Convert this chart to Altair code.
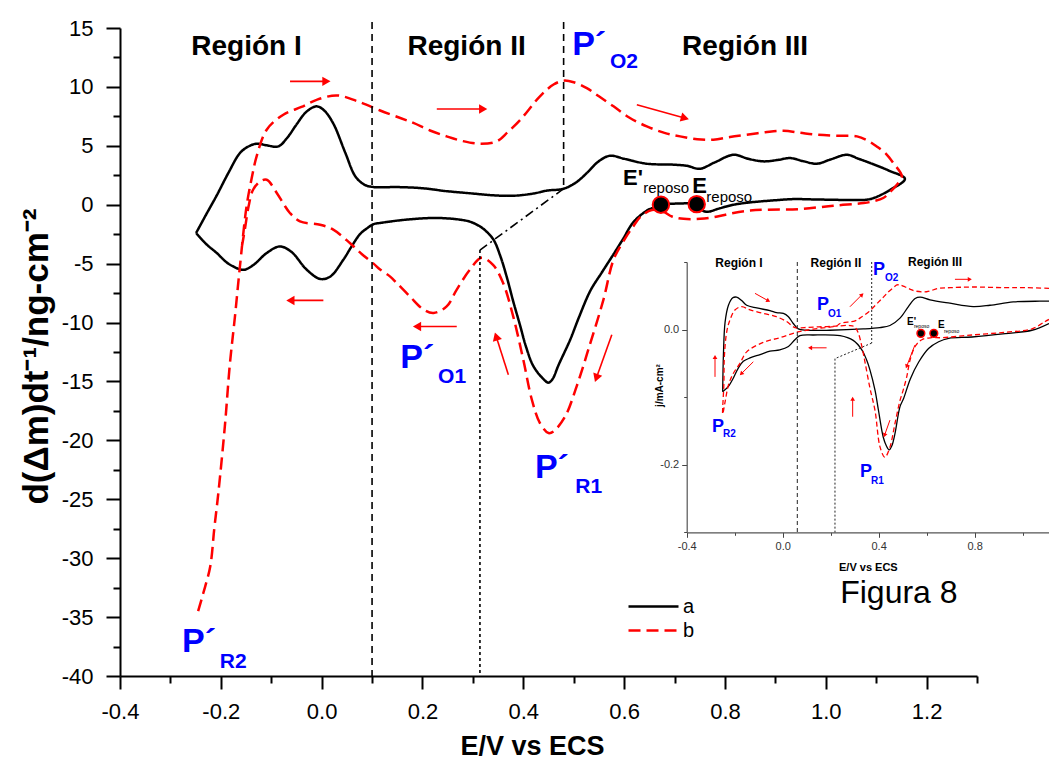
import math
import altair as alt
import pandas as pd

FONT = "Liberation Sans"
W, H = 857, 648
X_DOM = [-0.4, 1.3]
Y_DOM = [-40, 15]
IX_DOM = [-0.4, 1.11]
IY_DOM = [-0.3, 0.1]
IX_RANGE = [566.7, 929]
IY_RANGE = [504.3, 234]
BLUE = "#0000ff"

# ---------------- main chart, curve a (black, solid) ----------------
a_x = [-0.249, -0.23, -0.208, -0.185, -0.162, -0.145, -0.129, -0.11, -0.086, -0.068, -0.05, -0.03, -0.01, 0.005,
       0.023, 0.047, 0.067, 0.085, 0.103, 0.15, 0.2, 0.248, 0.3, 0.34, 0.38, 0.42, 0.447, 0.48, 0.505, 0.526,
       0.55, 0.572, 0.6, 0.645, 0.698, 0.725, 0.75, 0.78, 0.817, 0.846, 0.876, 0.905, 0.929, 0.955, 0.982,
       1.01, 1.042, 1.065, 1.088, 1.125, 1.157,
       1.128, 1.088, 1.05, 1.015, 0.975, 0.936, 0.9, 0.87, 0.84, 0.817, 0.79, 0.764, 0.752, 0.744, 0.71, 0.673,
       0.658, 0.645, 0.618, 0.598, 0.579, 0.555, 0.533, 0.51, 0.493, 0.47, 0.458, 0.45, 0.44, 0.42, 0.405,
       0.394, 0.38, 0.367, 0.354, 0.341, 0.325, 0.314, 0.295, 0.275, 0.245, 0.215, 0.16, 0.116, 0.103, 0.09,
       0.076, 0.06, 0.043, 0.017, -0.003, -0.03, -0.06, -0.083, -0.109, -0.135, -0.155, -0.185, -0.208,
       -0.23, -0.249]
a_y = [-2.4, -0.9, 0.8, 2.7, 4.39, 4.95, 5.18, 5.05, 4.95, 5.7, 6.8, 7.9, 8.35, 8.0,
       6.9, 4.4, 2.4, 1.7, 1.5, 1.5, 1.4, 1.15, 0.95, 0.8, 0.76, 0.95, 1.2, 1.36, 1.9, 2.69,
       3.7, 4.16, 3.9, 3.48, 3.4, 3.3, 3.05, 3.6, 4.24, 3.9, 3.68, 3.8, 3.96, 3.7, 3.48,
       3.85, 4.24, 3.9, 3.54, 2.9, 2.2,
       1.27, 0.48, 0.4, 0.42, 0.45, 0.48, 0.38, 0.28, 0.15, 0.0, -0.3, -0.6, -0.4, 0.05, 0.1, 0.0,
       -0.25, -0.5, -1.5, -2.9, -4.2, -5.8, -7.3, -9.6, -11.46, -13.6, -14.8, -15.1, -14.8, -13.7, -12.0,
       -10.3, -8.2, -6.1, -4.3, -2.97, -2.2, -1.84, -1.45, -1.27, -1.15, -1.13, -1.3, -1.55, -1.65, -2.0,
       -2.5, -3.5, -4.67, -6.1, -6.3, -5.5, -4.0, -3.54, -4.1, -5.1, -5.52, -5.0, -4.1,
       -3.3, -2.4]

# ---------------- main chart, curve b (red, dashed) ----------------
b_x = [-0.245, -0.235, -0.221, -0.213, -0.205, -0.192, -0.182, -0.172, -0.162, -0.149, -0.139, -0.129, -0.109,
       -0.076, -0.04, -0.01, 0.03, 0.07, 0.116, 0.156, 0.182, 0.215, 0.248, 0.28, 0.314, 0.347, 0.37, 0.394,
       0.433, 0.46, 0.48, 0.5, 0.526, 0.55, 0.579, 0.61, 0.645, 0.68, 0.711, 0.745, 0.777, 0.81, 0.843, 0.88,
       0.916, 0.95, 0.982, 1.02, 1.062, 1.085, 1.101, 1.12, 1.134, 1.151, 1.141, 1.128, 1.114, 1.095, 1.075,
       1.015, 0.949, 0.883, 0.85, 0.817, 0.785, 0.751, 0.718, 0.695, 0.678, 0.655, 0.633, 0.618, 0.6, 0.579,
       0.559, 0.533, 0.506, 0.483, 0.46, 0.45, 0.433, 0.417, 0.4, 0.38, 0.36, 0.34, 0.317, 0.294, 0.268,
       0.248, 0.222, 0.202, 0.175, 0.149, 0.136, 0.116, 0.103, 0.08, 0.056, 0.023, -0.003, -0.043, -0.063,
       -0.076, -0.089, -0.109, -0.122, -0.136, -0.145, -0.152, -0.158]
b_y = [-34.5, -33.0, -30.7, -27.5, -24.5, -18.8, -13.5, -9.5, -5.2, -0.15, 2.2, 4.1, 6.37,
       7.64, 8.3, 8.9, 9.28, 8.8, 8.0, 7.36, 6.94, 6.3, 5.8, 5.4, 5.18, 5.37, 6.2, 7.2,
       9.2, 10.2, 10.53, 10.4, 9.9, 9.2, 8.35, 7.4, 6.65, 6.1, 5.8, 5.55, 5.52, 5.75, 5.94, 6.15,
       6.28, 6.1, 5.94, 5.85, 5.8, 5.4, 4.95, 4.3, 3.54, 2.4, 1.7, 1.1, 0.57, 0.3, 0.14,
       -0.08, -0.37, -0.42, -0.5, -0.7, -1.0, -1.2, -1.2, -1.0, -0.6, -0.45, -1.0, -1.84, -3.0, -4.67,
       -8.06, -11.74, -15.4, -17.97, -19.24, -19.38, -18.53, -16.55, -13.16, -9.48, -6.65, -5.1, -4.5, -5.52, -7.2,
       -8.63, -9.19, -8.9, -7.78, -6.65, -6.1, -5.5, -5.0, -4.2, -3.25, -2.12, -1.7, -1.42, -0.7,
       0.1, 1.0, 2.12, 1.98, 1.27, -0.15, -2.0, -3.5]

# ---------------- inset, curve a (black) : two visible pieces ----------------
ia1_x = [-0.25, -0.247, -0.24, -0.226, -0.208, -0.192, -0.171, -0.15, -0.108, -0.053, -0.025, 0.003, 0.024,
         0.044, 0.065, 0.1, 0.197, 0.336, 0.405, 0.447, 0.489, 0.524, 0.552, 0.573, 0.614, 0.697, 0.794,
         0.864, 0.961, 1.072, 1.11]
ia1_y = [-0.092, -0.038, 0.011, 0.036, 0.047, 0.048, 0.043, 0.036, 0.032, 0.028, 0.025, 0.024, 0.019,
         0.009, 0.001, -0.001, -0.001, 0.001, 0.003, 0.006, 0.017, 0.034, 0.046, 0.048, 0.044, 0.039, 0.034,
         0.036, 0.041, 0.042, 0.042]
ia2_x = [1.11, 1.039, 0.928, 0.789, 0.692, 0.65, 0.608, 0.567, 0.532, 0.504, 0.489, 0.468, 0.455, 0.444,
         0.432, 0.419, 0.399, 0.385, 0.364, 0.35, 0.33, 0.294, 0.239, 0.128, 0.072, 0.051, 0.024, -0.012,
         -0.053, -0.094, -0.136, -0.164, -0.185, -0.206, -0.226, -0.25]
ia2_y = [0.009, -0.001, -0.006, -0.011, -0.013, -0.018, -0.028, -0.048, -0.073, -0.102, -0.114, -0.154, -0.172,
         -0.178, -0.172, -0.159, -0.119, -0.09, -0.06, -0.045, -0.03, -0.016, -0.009, -0.008, -0.009, -0.015,
         -0.025, -0.03, -0.032, -0.037, -0.042, -0.047, -0.057, -0.072, -0.084, -0.092]

# ---------------- inset, curve b (red dashed) ----------------
ib_x = [1.11, 1.017, 0.928, 0.789, 0.70, 0.65, 0.6, 0.553, 0.53, 0.511, 0.489, 0.476, 0.461, 0.441, 0.42, 0.4,
        0.358, 0.322, 0.302, 0.239, 0.225, 0.128, 0.058, -0.012, -0.081, -0.15, -0.178, -0.206, -0.226, -0.24,
        -0.25, -0.245, -0.243, -0.233, -0.219, -0.199, -0.171, -0.136, -0.081, -0.026, 0.016, 0.051, 0.09,
        0.15, 0.22, 0.28, 0.3, 0.315, 0.33, 0.343, 0.364, 0.385, 0.406, 0.426, 0.447, 0.468, 0.489, 0.502,
        0.517, 0.531, 0.552, 0.58, 0.62, 0.664, 0.789, 0.928, 1.039, 1.094, 1.11]
ib_y = [0.061, 0.062, 0.062, 0.063, 0.062, 0.061, 0.056, 0.057, 0.06, 0.063, 0.066, 0.066, 0.062, 0.056, 0.048,
        0.041, 0.026, 0.017, 0.013, 0.009, 0.0056, 0.0007, -0.004, -0.012, -0.019, -0.033, -0.05, -0.065,
        -0.082, -0.107, -0.125, -0.08, -0.04, -0.003, 0.015, 0.029, 0.034, 0.029, 0.024, 0.019, 0.012, 0.003,
        0.003, 0.004, 0.005, 0.006, 0.004, -0.005, -0.025, -0.048, -0.087, -0.12, -0.174, -0.189, -0.174,
        -0.139, -0.105, -0.09, -0.07, -0.045, -0.025, -0.015, -0.012, -0.012, -0.008, -0.004, 0.001, 0.012,
        0.015]

# ---------------- guide lines ----------------
main_dashed = [(0.1, 15.5, 0.1, -40.0), (0.48, 15.5, 0.48, 1.36)]
main_dashdot = [(0.48, 1.36, 0.314, -3.85)]
main_dotted = [(0.314, -3.85, 0.314, -40.0)]
inset_dashed = [(0.061, 0.1, 0.061, -0.3)]
inset_dotted = [(0.371, 0.1, 0.371, -0.02), (0.371, -0.02, 0.218, -0.043), (0.218, -0.043, 0.218, -0.3)]

# ---------------- arrows (start x, start y, end x, end y) ----------------
main_arrows = [(-0.0627, 10.47, 0.0167, 10.47), (0.2284, 8.12, 0.3276, 8.12), (0.6252, 8.49, 0.7276, 7.27),
               (0.0034, -8.12, -0.0692, -8.12), (0.268, -10.33, 0.182, -10.33), (0.3704, -14.43, 0.344, -10.89),
               (0.5756, -11.04, 0.5425, -15.0)]
inset_arrows = [(-0.1154, 0.0536, -0.053, 0.0412), (-0.282, -0.070, -0.282, -0.0378),
                (-0.1225, -0.0477, -0.178, -0.0674), (0.2804, 0.0338, 0.336, 0.0536),
                (0.183, -0.027, 0.1067, -0.027), (0.2917, -0.129, 0.2917, -0.0996),
                (0.718, 0.0744, 0.7875, 0.0744), (0.551, -0.023, 0.514, -0.057),
                (0.447, -0.134, 0.422, -0.159)]

# ---------------- rest potentials ----------------
main_rest_x = [0.673, 0.744]
main_rest_y = [0.0, 0.05]
inset_rest_x = [0.576, 0.63]
inset_rest_y = [-0.0056, -0.0056]

# ---------------- texts ----------------
region_labels = ["Región I", "Región II", "Región III"]
region_x = [-0.149, 0.2875, 0.84]
region_y = [12.73, 12.73, 12.73]
peak_main = ["P´", "P´", "P´", "P´"]
peak_main_x = [0.497, 0.156, 0.423, -0.277]
peak_main_y = [12.73, -13.84, -23.17, -38.0]
sub_main = ["O2", "O1", "R1", "R2"]
sub_main_x = [0.572, 0.231, 0.503, -0.202]
sub_main_y = [11.63, -15.11, -24.45, -39.3]

inset_regions = ["Región I", "Región II", "Región III"]
inset_region_x = [-0.182, 0.222, 0.635]
inset_region_y = [0.0926, 0.0926, 0.094]
peak_in_x = [0.143, 0.376, 0.322, -0.295]
peak_in_y = [0.0289, 0.0807, -0.2185, -0.152]
sub_in = ["O1", "O2", "R1", "R2"]
sub_in_x = [0.189, 0.426, 0.368, -0.249]
sub_in_y = [0.0185, 0.0719, -0.229, -0.159]

X_TICKS = [-0.4, -0.3, -0.2, -0.1, 0.0, 0.1, 0.2, 0.3, 0.4, 0.5, 0.6, 0.7, 0.8, 0.9, 1.0, 1.1, 1.2, 1.3]
Y_TICKS = [-40, -37.5, -35, -32.5, -30, -27.5, -25, -22.5, -20, -17.5, -15, -12.5, -10, -7.5, -5, -2.5,
           0, 2.5, 5, 7.5, 10, 12.5, 15]
IX_TICKS = [-0.4, -0.2, 0.0, 0.2, 0.4, 0.6, 0.8, 1.0]
IY_TICKS = [-0.3, -0.2, -0.1, 0.0, 0.1]

# ---------------- axes & encodings ----------------
FMT1 = "replace(format(datum.value, '.1f'), '\u2212', '-')"
x_axis = alt.Axis(
    values=X_TICKS, title="E/V vs ECS", grid=False, orient="bottom",
    labelExpr="abs(round(datum.value*10)) % 2 == 0 ? " + FMT1 + " : ''",
    tickSize={"condition": {"test": "abs(round(datum.value*10)) % 2 == 0", "value": 13}, "value": 7},
    tickWidth=2, tickColor="black", domainColor="black", domainWidth=2,
    labelFont=FONT, labelFontSize=22, labelColor="black", labelPadding=12,
    labelFlush=False, labelOverlap=False,
    titleFont=FONT, titleFontSize=27, titleFontWeight="bold", titleColor="black",
    titleX=412, titleY=78, titleBaseline="alphabetic", titleAlign="center")
y_axis = alt.Axis(
    values=Y_TICKS, title="d(Δm)dt⁻¹/ng-cm⁻²", grid=False, orient="left",
    labelExpr="abs(datum.value % 5) < 0.01 ? '' + datum.value : ''",
    tickSize={"condition": {"test": "abs(datum.value % 5) < 0.01", "value": 14}, "value": 7},
    tickWidth=2, tickColor="black", domainColor="black", domainWidth=2,
    labelFont=FONT, labelFontSize=22, labelColor="black", labelPadding=13,
    labelFlush=False, labelOverlap=False,
    titleFont=FONT, titleFontSize=35, titleFontWeight="bold", titleColor="black",
    titleX=-73, titleY=328, titleAngle=270, titleBaseline="alphabetic", titleAlign="center")
ix_axis = alt.Axis(
    values=IX_TICKS, title="E/V vs ECS", grid=False, orient="bottom", offset=-(H - IY_RANGE[0]),
    labelExpr="abs(round(datum.value*10)) % 4 == 0 ? " + FMT1 + " : ''",
    tickSize={"condition": {"test": "abs(round(datum.value*10)) % 4 == 0", "value": 5}, "value": 3},
    tickWidth=1, tickColor="#444444", domainColor="#555555", domainWidth=1.2,
    labelFont=FONT, labelFontSize=11, labelColor="#333333", labelPadding=3,
    labelFlush=False, labelOverlap=False,
    titleFont=FONT, titleFontSize=11, titleFontWeight="bold", titleColor="black",
    titleY=38, titleBaseline="alphabetic")
iy_axis = alt.Axis(
    values=IY_TICKS, title="j/mA-cm²", grid=False, orient="left", offset=-IX_RANGE[0],
    labelExpr="abs(round(datum.value*10)) % 2 == 0 ? " + FMT1 + " : ''",
    tickSize={"condition": {"test": "abs(round(datum.value*10)) % 2 == 0", "value": 5}, "value": 3},
    tickWidth=1, tickColor="#444444", domainColor="#555555", domainWidth=1.2,
    labelFont=FONT, labelFontSize=11, labelColor="#333333", labelPadding=3,
    labelFlush=False, labelOverlap=False,
    titleFont=FONT, titleFontSize=10, titleFontWeight="bold", titleColor="black",
    titleX=-24, titleY=357, titleAngle=270, titleBaseline="alphabetic", titleAlign="center")

MX = alt.X("x:Q", scale=alt.Scale(domain=X_DOM, nice=False, zero=False), axis=x_axis)
MY = alt.Y("y:Q", scale=alt.Scale(domain=Y_DOM, nice=False, zero=False), axis=y_axis)
IX = alt.X("x:Q", scale=alt.Scale(domain=IX_DOM, range=IX_RANGE, nice=False, zero=False), axis=ix_axis)
IY = alt.Y("y:Q", scale=alt.Scale(domain=IY_DOM, range=IY_RANGE, nice=False, zero=False), axis=iy_axis)

PX_MAIN = (W / (X_DOM[1] - X_DOM[0]), H / (Y_DOM[1] - Y_DOM[0]))
PX_IN = ((IX_RANGE[1] - IX_RANGE[0]) / (IX_DOM[1] - IX_DOM[0]), (IY_RANGE[0] - IY_RANGE[1]) / (IY_DOM[1] - IY_DOM[0]))


def seg_df(segs):
    return pd.DataFrame([dict(x=a, y=b, x2=c, y2=d) for a, b, c, d in segs])


def arrow_dfs(arrows, px, back):
    sx, sy = px
    shafts, heads = [], []
    for x0, y0, x1, y1 in arrows:
        dxp = (x1 - x0) * sx
        dyp = -(y1 - y0) * sy
        L = math.hypot(dxp, dyp)
        ux, uy = dxp / L, dyp / L
        ang = math.degrees(math.atan2(ux, -uy)) % 360
        hx = x1 - ux * back / sx
        hy = y1 + uy * back / sy
        shafts.append(dict(x=x0, y=y0, x2=hx, y2=hy))
        heads.append(dict(x=hx, y=hy, ang=ang))
    return pd.DataFrame(shafts), pd.DataFrame(heads)


def text_layer(X, Y, texts, xs, ys, size, weight="normal", color="black", align="left"):
    df = pd.DataFrame(dict(x=xs, y=ys, t=texts))
    return alt.Chart(df).mark_text(align=align, baseline="alphabetic", font=FONT, fontSize=size,
                                   fontWeight=weight, color=color).encode(x=X, y=Y, text="t:N")


# ---------------- main layers ----------------
df_main = pd.concat([
    pd.DataFrame(dict(x=a_x, y=a_y, s="a", i=range(len(a_x)))),
    pd.DataFrame(dict(x=b_x, y=b_y, s="b", i=range(len(b_x)))),
])
legend = alt.Legend(orient="none", legendX=507, legendY=568, title=None, symbolType="stroke",
                    symbolSize=2500, symbolStrokeWidth=2.5, labelFont=FONT, labelFontSize=20,
                    labelColor="black", rowPadding=3, labelOffset=3, padding=0, clipHeight=21)
main_lines = alt.Chart(df_main).mark_line(strokeWidth=2.5, interpolate="catmull-rom").encode(
    x=MX, y=MY,
    color=alt.Color("s:N", scale=alt.Scale(domain=["a", "b"], range=["black", "red"]), legend=legend),
    strokeDash=alt.StrokeDash("s:N", scale=alt.Scale(domain=["a", "b"], range=[[1, 0], [12, 6]]), legend=legend),
    order="i:Q")

rule_dashed = alt.Chart(seg_df(main_dashed)).mark_rule(color="black", strokeWidth=1.6, strokeDash=[7, 5]).encode(
    x=MX, y=MY, x2="x2:Q", y2="y2:Q")
rule_dashdot = alt.Chart(seg_df(main_dashdot)).mark_rule(color="black", strokeWidth=1.6, strokeDash=[9, 4, 2, 4]).encode(
    x=MX, y=MY, x2="x2:Q", y2="y2:Q")
rule_dotted = alt.Chart(seg_df(main_dotted)).mark_rule(color="black", strokeWidth=1.6, strokeDash=[3, 3]).encode(
    x=MX, y=MY, x2="x2:Q", y2="y2:Q")

m_sh, m_hd = arrow_dfs(main_arrows, PX_MAIN, 5)
main_shafts = alt.Chart(m_sh).mark_rule(color="red", strokeWidth=1.6).encode(x=MX, y=MY, x2="x2:Q", y2="y2:Q")
main_heads = alt.Chart(m_hd).mark_point(shape="triangle", filled=True, color="red", size=90, opacity=1).encode(
    x=MX, y=MY, angle=alt.Angle("ang:Q", scale=None))

main_rest = alt.Chart(pd.DataFrame(dict(x=main_rest_x, y=main_rest_y))).mark_circle(
    size=270, color="black", stroke="red", strokeWidth=2, opacity=1).encode(x=MX, y=MY)

main_texts = [
    text_layer(MX, MY, region_labels, region_x, region_y, 28, "bold", "black", "center"),
    text_layer(MX, MY, peak_main, peak_main_x, peak_main_y, 34, "bold", BLUE),
    text_layer(MX, MY, sub_main, sub_main_x, sub_main_y, 21, "bold", BLUE),
    text_layer(MX, MY, ["E'", "E"], [0.598, 0.735], [1.70, 1.02], 22, "bold"),
    text_layer(MX, MY, ["reposo", "reposo"], [0.638, 0.763], [1.02, 0.25], 15),
    text_layer(MX, MY, ["Figura 8"], [1.0286], [-33.79], 32),
]

main = alt.layer(main_lines, rule_dashed, rule_dashdot, rule_dotted, main_shafts, main_heads,
                 main_rest, *main_texts)

# ---------------- inset layers ----------------
df_ia = pd.concat([
    pd.DataFrame(dict(x=ia1_x, y=ia1_y, seg=1, i=range(len(ia1_x)))),
    pd.DataFrame(dict(x=ia2_x, y=ia2_y, seg=2, i=range(len(ia2_x)))),
])
in_a = alt.Chart(df_ia).mark_line(color="black", strokeWidth=1.3, interpolate="catmull-rom").encode(
    x=IX, y=IY, detail="seg:N", order="i:Q")
df_ib = pd.DataFrame(dict(x=ib_x, y=ib_y, i=range(len(ib_x))))
in_b = alt.Chart(df_ib).mark_line(color="red", strokeWidth=1.3, strokeDash=[5, 3], interpolate="catmull-rom").encode(
    x=IX, y=IY, order="i:Q")

in_dashed = alt.Chart(seg_df(inset_dashed)).mark_rule(color="#222222", strokeWidth=1, strokeDash=[4, 3]).encode(
    x=IX, y=IY, x2="x2:Q", y2="y2:Q")
in_dotted = alt.Chart(seg_df(inset_dotted)).mark_rule(color="#222222", strokeWidth=1, strokeDash=[2, 2]).encode(
    x=IX, y=IY, x2="x2:Q", y2="y2:Q")

i_sh, i_hd = arrow_dfs(inset_arrows, PX_IN, 2.5)
in_shafts = alt.Chart(i_sh).mark_rule(color="red", strokeWidth=1).encode(x=IX, y=IY, x2="x2:Q", y2="y2:Q")
in_heads = alt.Chart(i_hd).mark_point(shape="triangle", filled=True, color="red", size=22, opacity=1).encode(
    x=IX, y=IY, angle=alt.Angle("ang:Q", scale=None))

in_rest = alt.Chart(pd.DataFrame(dict(x=inset_rest_x, y=inset_rest_y))).mark_circle(
    size=60, color="black", stroke="red", strokeWidth=1.5, opacity=1).encode(x=IX, y=IY)

in_texts = [
    text_layer(IX, IY, inset_regions, inset_region_x, inset_region_y, 12, "bold", "black", "center"),
    text_layer(IX, IY, ["P", "P", "P", "P"], peak_in_x, peak_in_y, 18, "bold", BLUE),
    text_layer(IX, IY, sub_in, sub_in_x, sub_in_y, 10, "bold", BLUE),
    text_layer(IX, IY, ["E'", "E"], [0.518, 0.647], [0.0067, 0.0022], 10, "bold"),
    text_layer(IX, IY, ["reposo", "reposo"], [0.547, 0.672], [0.0022, -0.005], 5),
]

inset = alt.layer(in_a, in_b, in_dashed, in_dotted, in_shafts, in_heads, in_rest, *in_texts)

chart = alt.layer(main, inset).resolve_scale(x="independent", y="independent").resolve_axis(
    x="independent", y="independent"
).properties(
    width=W, height=H,
    padding={"left": 120, "top": 28, "right": 72, "bottom": 86},
    autosize=alt.AutoSizeParams(type="none"),
    background="white",
).configure(font=FONT).configure_view(stroke=None)

chart.save("out.html", embed_options={"renderer": "svg", "actions": False})
